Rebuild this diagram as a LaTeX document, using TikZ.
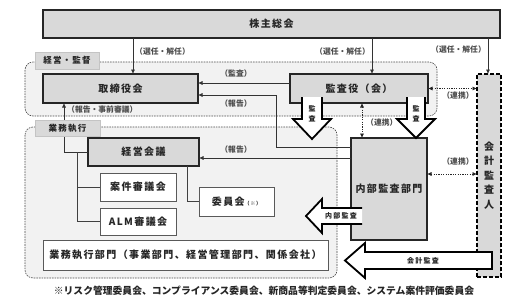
\documentclass[tikz,border=0pt]{standalone}
\usepackage{fontspec}
\setmainfont{Noto Sans CJK JP}
\newfontfamily\jpsp{Noto Sans CJK JP}[LetterSpace=14]
\newfontfamily\jpsm{Noto Sans CJK JP}[LetterSpace=18]
\usetikzlibrary{arrows.meta}
\definecolor{boxgray}{HTML}{D9D9D9}
\definecolor{regiongray}{HTML}{F2F2F2}
\definecolor{tagline}{HTML}{C4C4C4}
\definecolor{txt}{HTML}{262626}
\definecolor{lbltxt}{HTML}{4D4D4D}
\begin{document}
\begin{tikzpicture}[x=1pt,y=-1pt,
  box/.style={draw=txt, line width=1.1pt, fill=boxgray, inner sep=0pt, outer sep=0pt,
    text=txt, font=\jpsp\bfseries\fontsize{10}{12}\selectfont},
  wbox/.style={box, fill=white, draw=black!65, line width=0.8pt},
  tagbox/.style={draw=tagline, line width=0.6pt, fill=boxgray, inner sep=0pt, outer sep=0pt,
    text=txt, font=\jpsp\bfseries\fontsize{8.5}{10}\selectfont},
  region/.style={draw=black!70, fill=regiongray, line width=0.6pt,
    dash pattern=on 1.6pt off 1pt, rounded corners=8pt},
  lbl/.style={inner sep=0pt, text=lbltxt, font=\bfseries\fontsize{7.8}{9}\selectfont},
  arr/.style={-{Latex[length=4.5pt,width=4pt]}, line width=0.6pt, draw=black!80},
  plain/.style={line width=0.6pt, draw=black!75},
  linkarr/.style={{Latex[length=4.5pt,width=4pt]}-{Latex[length=4.5pt,width=4pt]},
    line width=0.7pt, draw=black!85, dash pattern=on 1.2pt off 1.2pt},
  bigarr/.style={fill=white, draw=black, line width=1.8pt, line join=miter, miter limit=10},
  bigtxt/.style={inner sep=0pt, text=txt, font=\jpsm\bfseries\fontsize{7}{10}\selectfont}
]
\useasboundingbox (0,0) rectangle (517,300);
\fill[white] (0,0) rectangle (517,300);

% regions
\draw[region] (25,62) rectangle (437,116);
\draw[region] (25,127) rectangle (337,278);

% main nodes
\node[box, minimum width=457pt, minimum height=28pt] (kabu) at (271.5,24) {株主総会};
\node[box, line width=1.3pt, minimum width=155pt, minimum height=29pt] (tori) at (120.5,88.5) {取締役会};
\node[box, minimum width=138pt, minimum height=29pt] (kansa) at (359,88.5) {監査役（会）};
\node[box, line width=1.3pt, minimum width=111pt, minimum height=28pt] (keiei) at (143.5,152) {経営会議};
\node[wbox, minimum width=76pt, minimum height=28pt] (anken) at (138,187) {案件審議会};
\node[wbox, minimum width=76pt, minimum height=27pt] (alm) at (138,221.5) {ALM審議会};
\node[wbox, minimum width=75pt, minimum height=29pt] (iin) at (236.5,201.5) {委員会{\fontsize{5}{6}\selectfont（※）}};
\node[wbox, minimum width=285pt, minimum height=30pt] (gyomu) at (185.5,255) {業務執行部門（事業部門、経営管理部門、関係会社）};
\node[box, minimum width=76pt, minimum height=102pt] (naibu) at (389,189) {内部監査部門};
\node[box, draw=black, line width=1.3pt, dash pattern=on 4pt off 2pt,
  minimum width=24pt, minimum height=203pt, align=center,
  font=\bfseries\fontsize{10}{14.5}\selectfont] (kaikei) at (489,175.5) {会\\計\\監\\査\\人};

% helper coordinates
\coordinate (xA) at (133,0);
\coordinate (xB) at (372,0);
\coordinate (xC) at (488,0);
\coordinate (yA) at (0,83);
\coordinate (yB) at (0,95);
\coordinate (yC) at (0,147);
\coordinate (xD) at (276,0);
\coordinate (yD) at (0,158);
\coordinate (xE) at (64,0);
\coordinate (xF) at (77,0);
\coordinate (xG) at (187,0);
\coordinate (xH) at (362,0);
\coordinate (yE) at (0,174);

% election arrows
\draw[arr] (kabu.south -| xA) -- (tori.north -| xA);
\draw[arr] (kabu.south -| xB) -- (kansa.north -| xB);
\draw[arr] (kabu.south -| xC) -- (kaikei.north -| xC);
\node[lbl, anchor=west] (l1) at (135,52) {（選任・解任）};
\node[lbl, anchor=east] (l2) at (370,52) {（選任・解任）};
\node[lbl, anchor=east] (l3) at (486,50) {（選任・解任）};

% audit / report arrows
\draw[arr] (kansa.west |- yA) -- (tori.east |- yA);
\node[lbl] (l4) at (236,74) {（監査）};
\draw[arr] (naibu.west |- yC) -| (xD |- yB) -- (tori.east |- yB);
\node[lbl] (l5) at (236,104) {（報告）};
\draw[arr] (naibu.west |- yD) -- (keiei.east |- yD);
\node[lbl] (l6) at (236,150) {（報告）};
\draw[arr] (keiei.west) -| (tori.south -| xE);
\node[lbl, anchor=west] (l7) at (67,110) {（報告・事前審議）};

% tree
\draw[plain] (keiei.west -| xF) |- (alm.west);
\draw[plain] (anken.west -| xF) -- (anken.west);
\draw[plain] (keiei.south -| xG) |- (iin.west);

% cooperation
\draw[linkarr] (kansa.east) -- (kansa.east -| kaikei.west);
\node[lbl] (l8) at (458,96) {（連携）};
\draw[linkarr] (kansa.south -| xH) -- (naibu.north -| xH);
\node[lbl, anchor=west] (l9) at (366,123) {（連携）};
\draw[linkarr] (naibu.east |- yE) -- (kaikei.west |- yE);
\node[lbl] (l10) at (458,162) {（連携）};

% tags
\node[tagbox, minimum width=64pt, minimum height=17pt] (tag1) at (67,60.5) {経営・監督};
\node[tagbox, minimum width=65pt, minimum height=16pt] (tag2) at (67.5,128) {業務執行};

% big hollow arrows
\filldraw[bigarr] (302,97) -- (302,119) -- (293,119) -- (312,139) -- (331,119) -- (322,119) -- (322,97);
\node[bigtxt, align=center] (t1) at (312,114) {監\\査};
\filldraw[bigarr] (407,97) -- (407,119) -- (397,119) -- (416,138) -- (435,119) -- (425,119) -- (425,97);
\node[bigtxt, align=center] (t2) at (416,114) {監\\査};
\filldraw[bigarr] (362,208) -- (322,208) -- (322,199) -- (306,216) -- (322,233) -- (322,224) -- (362,224);
\node[bigtxt] (t3) at (341,216) {内部監査};
\filldraw[bigarr] (492,252) -- (365,252) -- (365,243) -- (345,260.5) -- (365,278) -- (365,269) -- (492,269) -- cycle;
\node[bigtxt] (t4) at (423,260.5) {会計監査};

% footnote
\node[inner sep=0pt, text=txt, font=\bfseries\fontsize{9.8}{11}\selectfont] (note) at (264,291)
  {※リスク管理委員会、コンプライアンス委員会、新商品等判定委員会、システム案件評価委員会};
\end{tikzpicture}
\end{document}
